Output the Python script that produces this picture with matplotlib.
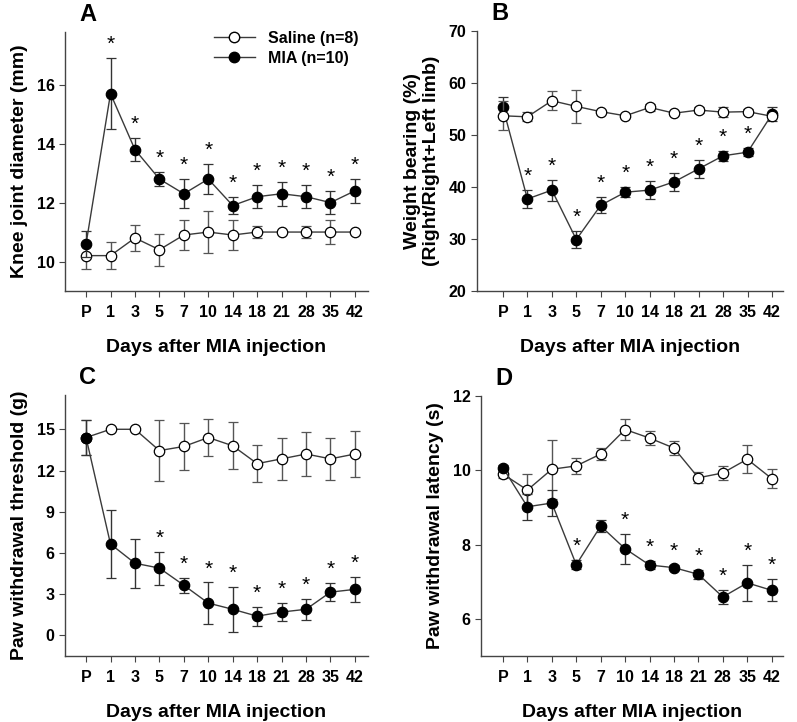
import matplotlib.pyplot as plt
from matplotlib.lines import Line2D
import numpy as np

plt.rcParams['font.family'] = ['Liberation Sans', 'DejaVu Sans']
plt.rcParams['font.weight'] = 'bold'

days = ['P', '1', '3', '5', '7', '10', '14', '18', '21', '28', '35', '42']

# A - knee joint diameter (mm)
a_sal = [10.2, 10.2, 10.8, 10.4, 10.9, 11.0, 10.9, 11.0, 11.0, 11.0, 11.0, 11.0]
a_sal_err = [0.45, 0.45, 0.45, 0.55, 0.5, 0.7, 0.5, 0.2, 0.0, 0.2, 0.4, 0.0]
a_mia = [10.6, 15.7, 13.8, 12.8, 12.3, 12.8, 11.9, 12.2, 12.3, 12.2, 12.0, 12.4]
a_mia_err = [0.45, 1.2, 0.4, 0.25, 0.5, 0.5, 0.3, 0.4, 0.4, 0.4, 0.4, 0.4]
a_star = [False, True, True, True, True, True, True, True, True, True, True, True]

# B - weight bearing (%)
b_sal = [53.7, 53.5, 56.6, 55.5, 54.5, 53.7, 55.3, 54.2, 54.8, 54.4, 54.5, 53.6]
b_sal_err = [2.8, 0.9, 1.8, 3.1, 0.3, 0.3, 0.6, 0.3, 0.5, 1.0, 0.5, 0.3]
b_mia = [55.3, 37.7, 39.4, 29.9, 36.5, 39.0, 39.4, 41.0, 43.5, 46.0, 46.7, 54.0]
b_mia_err = [2.0, 1.7, 2.0, 1.7, 1.5, 1.0, 1.8, 1.7, 1.7, 1.0, 0.8, 1.4]
b_star = [False, True, True, True, True, True, True, True, True, True, True, False]

# C - paw withdrawal threshold (g)
c_sal = [14.4, 15.0, 15.0, 13.45, 13.75, 14.4, 13.8, 12.5, 12.85, 13.2, 12.85, 13.2]
c_sal_err = [1.3, 0.0, 0.0, 2.2, 1.7, 1.35, 1.7, 1.35, 1.55, 1.6, 1.55, 1.65]
c_mia = [14.4, 6.65, 5.25, 4.9, 3.65, 2.35, 1.9, 1.4, 1.7, 1.9, 3.15, 3.35]
c_mia_err = [1.3, 2.5, 1.8, 1.2, 0.55, 1.5, 1.65, 0.7, 0.65, 0.75, 0.65, 0.9]
c_star = [False, False, False, True, True, True, True, True, True, True, True, True]

# D - paw withdrawal latency (s)
d_sal = [9.9, 9.47, 10.03, 10.12, 10.44, 11.1, 10.87, 10.6, 9.8, 9.93, 10.3, 9.78]
d_sal_err = [0.1, 0.42, 0.8, 0.22, 0.17, 0.27, 0.18, 0.2, 0.15, 0.18, 0.37, 0.25]
d_mia = [10.07, 9.02, 9.12, 7.46, 8.5, 7.89, 7.45, 7.38, 7.2, 6.59, 6.97, 6.77]
d_mia_err = [0.07, 0.35, 0.35, 0.12, 0.15, 0.4, 0.1, 0.07, 0.12, 0.2, 0.48, 0.3]
d_star = [False, False, False, True, False, True, True, True, True, True, True, True]

fig = plt.figure(figsize=(7.97, 7.22), dpi=100)

panels = [
    ('A', [0.0816, 0.597, 0.380, 0.359], a_sal, a_sal_err, a_mia, a_mia_err, a_star,
     (9.0, 17.8), [10, 12, 14, 16], 'Knee joint diameter (mm)', (-0.86, 11.53), True),
    ('B', [0.5985, 0.597, 0.384, 0.360], b_sal, b_sal_err, b_mia, b_mia_err, b_star,
     (20, 70), [20, 30, 40, 50, 60, 70], 'Weight bearing (%)\n(Right/Right+Left limb)', (-1.06, 11.45), False),
    ('C', [0.0816, 0.0914, 0.380, 0.3616], c_sal, c_sal_err, c_mia, c_mia_err, c_star,
     (-1.5, 17.5), [0, 3, 6, 9, 12, 15], 'Paw withdrawal threshold (g)', (-0.86, 11.53), True),
    ('D', [0.6035, 0.0914, 0.3785, 0.360], d_sal, d_sal_err, d_mia, d_mia_err, d_star,
     (5, 12), [6, 8, 10, 12], 'Paw withdrawal latency (s)', (-0.9, 11.45), True),
]

x = np.arange(len(days))
lc = '#3a3a3a'

for letter, rect, sal, sal_e, mia, mia_e, star, ylim, yt, ylab, xlim, mia_top in panels:
    ax = fig.add_axes(rect)
    zs, zm = (3, 4) if mia_top else (4, 3)
    ax.errorbar(x, sal, yerr=sal_e, fmt='-o', color=lc, ecolor='#555555', elinewidth=1,
                capsize=3.5, capthick=1, lw=1, mfc='white', mec='black', ms=7.5,
                mew=0.9, zorder=zs)
    ax.errorbar(x, mia, yerr=mia_e, fmt='-o', color=lc, ecolor='#333333', elinewidth=1,
                capsize=3.5, capthick=1, lw=1, mfc='black', mec='black', ms=7.5,
                mew=0.9, zorder=zm)
    for i in range(len(days)):
        if star[i]:
            ax.annotate('*', (x[i], mia[i] + mia_e[i]), xytext=(0, 3),
                        textcoords='offset points', ha='center', va='bottom',
                        fontsize=15, fontweight='normal')
    ax.set_xlim(*xlim)
    ax.set_ylim(*ylim)
    ax.set_yticks(yt)
    ax.set_xticks(x)
    ax.set_xticklabels(days)
    for s in ['top', 'right']:
        ax.spines[s].set_visible(False)
    for s in ['left', 'bottom']:
        ax.spines[s].set_color('#444444')
        ax.spines[s].set_linewidth(1)
    ax.tick_params(axis='both', direction='out', length=4, width=0.8, color='#444444',
                   labelsize=11.5)
    ax.tick_params(axis='x', pad=6)
    ax.set_xlabel('Days after MIA injection', fontsize=14, fontweight='bold', labelpad=14)
    ax.set_ylabel(ylab, fontsize=14, fontweight='bold', labelpad=6)
    ax.text(rect[0] + 0.018, rect[1] + rect[3] + 0.008, letter, transform=fig.transFigure,
            fontsize=17, fontweight='bold', va='bottom')
    if letter == 'A':
        handles = [
            Line2D([], [], color=lc, lw=1, marker='o', ms=7.5, mfc='white', mec='black'),
            Line2D([], [], color=lc, lw=1, marker='o', ms=7.5, mfc='black', mec='black'),
        ]
        ax.legend(handles, ['Saline (n=8)', 'MIA (n=10)'], loc='upper right',
                  bbox_to_anchor=(1.0, 1.04), frameon=False, fontsize=11.5,
                  handlelength=2.6, borderaxespad=0.2, labelspacing=0.3)

fig.savefig('out.png', dpi=100)
